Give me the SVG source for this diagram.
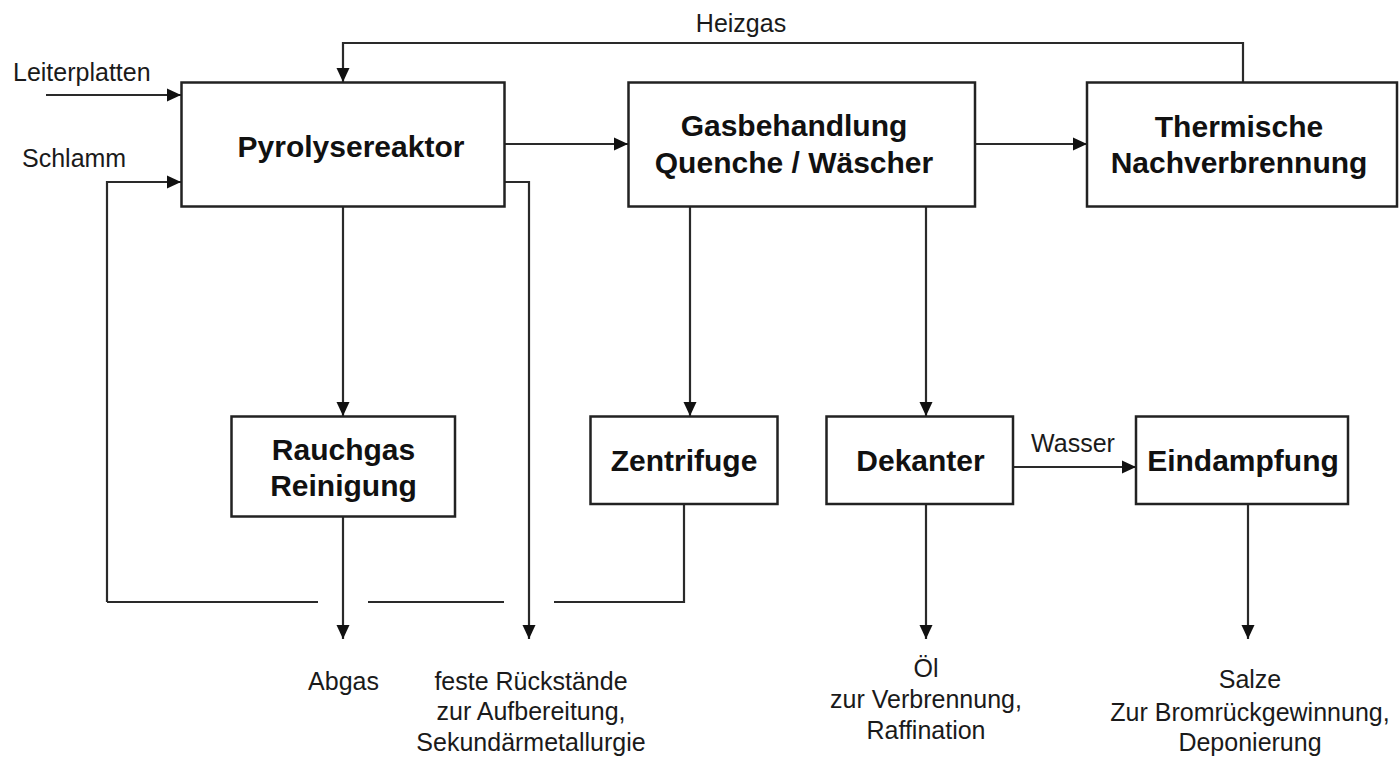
<svg xmlns="http://www.w3.org/2000/svg" width="1400" height="758" viewBox="0 0 1400 758">
<style>
.box{fill:#ffffff;stroke:#222;stroke-width:2.5}
.ln{fill:none;stroke:#2a2a2a;stroke-width:2.2}
.b{font-family:"Liberation Sans",Arial,sans-serif;font-weight:bold;font-size:30px;fill:#111;text-anchor:middle}
.r{font-family:"Liberation Sans",Arial,sans-serif;font-size:25px;fill:#1a1a1a}
.c{text-anchor:middle}
</style>
<defs>
<marker id="arr" markerUnits="userSpaceOnUse" markerWidth="15" markerHeight="14" refX="14" refY="7" orient="auto">
<path d="M0,0.5 L14,7 L0,13.5 Z" fill="#111"/>
</marker>
</defs>
<rect width="1400" height="758" fill="#ffffff"/>

<g id="connectors">
<path class="ln" d="M1243,83 V43 H343 V82" marker-end="url(#arr)"/>
<path class="ln" d="M46,95 H181" marker-end="url(#arr)"/>
<path class="ln" d="M107,602 V182 H181" marker-end="url(#arr)"/>
<path class="ln" d="M505,144 H628" marker-end="url(#arr)"/>
<path class="ln" d="M975,144 H1087" marker-end="url(#arr)"/>
<path class="ln" d="M343,206 V416" marker-end="url(#arr)"/>
<path class="ln" d="M690,206 V416" marker-end="url(#arr)"/>
<path class="ln" d="M926,206 V416" marker-end="url(#arr)"/>
<path class="ln" d="M1013,467 H1136" marker-end="url(#arr)"/>
<path class="ln" d="M343,517 V639" marker-end="url(#arr)"/>
<path class="ln" d="M505,182 H529 V639" marker-end="url(#arr)"/>
<path class="ln" d="M926,504 V639" marker-end="url(#arr)"/>
<path class="ln" d="M1248,504 V639" marker-end="url(#arr)"/>
<path class="ln" d="M107,602 H318"/>
<path class="ln" d="M368,602 H504"/>
<path class="ln" d="M554,602 H684 V504"/>
</g>

<g id="pyrolysereaktor">
<rect class="box" x="181.5" y="82.5" width="323" height="124"/>
<text class="b" x="351" y="157">Pyrolysereaktor</text>
</g>
<g id="gasbehandlung">
<rect class="box" x="628.5" y="82.5" width="346.5" height="124"/>
<text class="b" x="794" y="136">Gasbehandlung</text>
<text class="b" x="794" y="173">Quenche / Wäscher</text>
</g>
<g id="thermische">
<rect class="box" x="1087" y="82.5" width="310" height="124"/>
<text class="b" x="1239" y="137">Thermische</text>
<text class="b" x="1239" y="173">Nachverbrennung</text>
</g>
<g id="rauchgas">
<rect class="box" x="231.5" y="416.5" width="223.5" height="100"/>
<text class="b" x="343.5" y="460">Rauchgas</text>
<text class="b" x="343.5" y="496">Reinigung</text>
</g>
<g id="zentrifuge">
<rect class="box" x="590.5" y="416.5" width="187" height="87.5"/>
<text class="b" x="684" y="471">Zentrifuge</text>
</g>
<g id="dekanter">
<rect class="box" x="826.5" y="416.5" width="186.5" height="87.5"/>
<text class="b" x="920.5" y="471">Dekanter</text>
</g>
<g id="eindampfung">
<rect class="box" x="1136" y="416.5" width="212" height="87.5"/>
<text class="b" x="1243" y="471">Eindampfung</text>
</g>

<g id="labels">
<text class="r c" x="741" y="32">Heizgas</text>
<text class="r" x="13" y="81">Leiterplatten</text>
<text class="r" x="22" y="167">Schlamm</text>
<text class="r c" x="1073" y="452">Wasser</text>
<text class="r c" x="343.5" y="690">Abgas</text>
<text class="r c" x="531" y="690">feste Rückstände</text>
<text class="r c" x="531" y="720">zur Aufbereitung,</text>
<text class="r c" x="531" y="751">Sekundärmetallurgie</text>
<text class="r c" x="926" y="677">Öl</text>
<text class="r c" x="926" y="708">zur Verbrennung,</text>
<text class="r c" x="926" y="739">Raffination</text>
<text class="r c" x="1250" y="688">Salze</text>
<text class="r c" x="1250" y="721">Zur Bromrückgewinnung,</text>
<text class="r c" x="1250" y="751">Deponierung</text>
</g>
</svg>
